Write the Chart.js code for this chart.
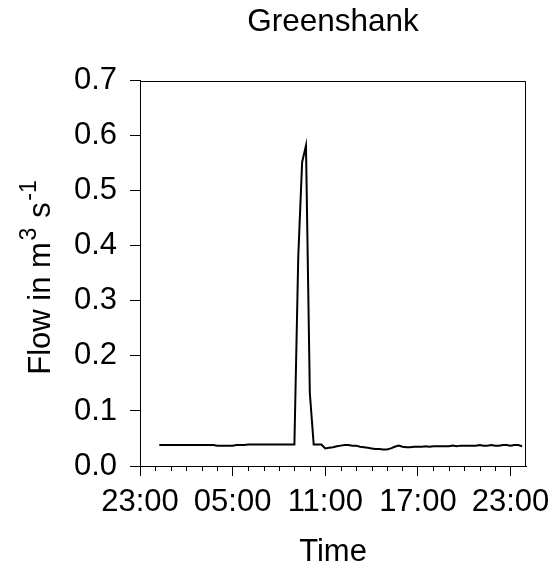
<!DOCTYPE html>
<html><head><meta charset="utf-8">
<script src="https://cdn.jsdelivr.net/npm/chart.js@4.4.1/dist/chart.umd.min.js"></script>
<style>html,body{margin:0;padding:0;background:#fff;}</style>
</head><body>
<canvas id="c" width="557" height="576"></canvas>
<script>
// ---- data ----
const chartTitle = "Greenshank";
const xAxisTitle = "Time";
const yAxisTitle = ["Flow in m", "3", " s", "-1"]; // alternating normal / superscript
const xTickHours = [0, 6, 12, 18, 24];
const xTickLabels = ["23:00", "05:00", "11:00", "17:00", "23:00"];
const xMinorHours = [1,2,3,4,5,7,8,9,10,11,13,14,15,16,17,19,20,21,22,23];
const yTickValues = [0, 0.1, 0.2, 0.3, 0.4, 0.5, 0.6, 0.7];
const yTickLabels = ["0.0","0.1","0.2","0.3","0.4","0.5","0.6","0.7"];
// hours after 23:00 of the first day
const timeHours = [1.25,1.5,1.75,2,2.25,2.5,2.75,3,3.25,3.5,3.75,4,4.25,4.5,4.75,
  5,5.25,5.5,5.75,6,6.25,6.5,6.75,7,7.25,7.5,7.75,8,8.25,8.5,8.75,9,9.25,9.5,9.75,10,
  10.25,10.5,10.75,11,11.25,11.5,11.75,12,12.25,12.5,12.75,13,13.25,13.5,13.75,14,
  14.25,14.5,14.75,15,15.25,15.5,15.75,16,16.25,16.5,16.75,17,17.25,17.5,17.75,18,
  18.25,18.5,18.75,19,19.25,19.5,19.75,20,20.25,20.5,20.75,21,21.25,21.5,21.75,22,
  22.25,22.5,22.75,23,23.25,23.5,23.75,24,24.25,24.5,24.75];
const flowValues = [0.038,0.038,0.038,0.038,0.038,0.038,0.038,0.038,0.038,0.038,0.038,0.038,0.038,0.038,0.038,
  0.037,0.037,0.037,0.037,0.037,0.038,0.038,0.038,
  0.039,0.039,0.039,0.039,0.039,0.039,0.039,0.039,0.039,0.039,0.039,0.039,0.039,
  0.380,0.552,0.582,0.132,
  0.039,0.039,0.039,
  0.032,0.033,0.034,0.036,0.037,0.038,0.038,0.037,0.037,0.035,0.034,0.033,0.032,0.031,0.031,0.030,0.030,0.032,0.035,0.037,
  0.035,0.034,0.034,0.035,0.035,0.035,0.036,0.035,0.036,0.036,0.036,0.036,0.036,0.037,0.036,0.037,
  0.037,0.037,0.037,0.037,0.038,0.037,0.037,0.038,0.037,0.037,0.038,0.038,0.037,0.038,0.038,0.036];

const FONT = "'Liberation Sans', Arial, Helvetica, sans-serif";

const framePlugin = {
  id: 'frame',
  afterDraw(chart) {
    const ctx = chart.ctx, a = chart.chartArea;
    ctx.save();
    ctx.strokeStyle = '#000';
    ctx.lineWidth = 1;
    ctx.beginPath();
    ctx.moveTo(Math.round(a.left) + 0.5, Math.round(a.top) + 0.5);
    ctx.lineTo(Math.round(a.right) - 0.5, Math.round(a.top) + 0.5);
    ctx.lineTo(Math.round(a.right) - 0.5, Math.round(a.bottom) + 0.5);
    ctx.stroke();
    // minor hour ticks
    const xs = chart.scales.x;
    ctx.beginPath();
    xMinorHours.forEach(h => {
      const px = Math.round(xs.getPixelForValue(h)) + 0.5;
      ctx.moveTo(px, a.bottom);
      ctx.lineTo(px, a.bottom + 5);
    });
    ctx.stroke();
    // y axis title with superscripts
    const big = "31px " + FONT, small = "23px " + FONT;
    const gap = 1.5;
    let total = 0;
    yAxisTitle.forEach((t, i) => { ctx.font = i % 2 ? small : big; total += ctx.measureText(t).width; });
    total += gap * (yAxisTitle.length - 1);
    ctx.translate(50, 277.5);
    ctx.rotate(-Math.PI / 2);
    ctx.fillStyle = '#000';
    ctx.textBaseline = 'alphabetic';
    ctx.textAlign = 'left';
    let x = -total / 2;
    yAxisTitle.forEach((t, i) => {
      ctx.font = i % 2 ? small : big;
      ctx.fillText(t, x, i % 2 ? -14 : 0);
      x += ctx.measureText(t).width + gap;
    });
    ctx.restore();
  }
};

new Chart(document.getElementById('c'), {
  type: 'line',
  data: {
    datasets: [{
      data: timeHours.map((h, i) => ({x: h, y: flowValues[i]})),
      borderColor: '#000',
      borderWidth: 2,
      pointRadius: 0,
      tension: 0,
      fill: false
    }]
  },
  options: {
    responsive: false,
    animation: false,
    devicePixelRatio: 1,
    layout: { padding: { left: 0, right: 31, top: 0, bottom: 0 } },
    plugins: {
      legend: { display: false },
      tooltip: { enabled: false },
      title: {
        display: true, text: chartTitle, fullSize: false, color: '#000',
        font: { family: FONT, size: 31.5, weight: 'normal', lineHeight: 1.2 },
        padding: { top: 3.5, bottom: 39.4 }
      }
    },
    scales: {
      x: {
        type: 'linear', min: 0, max: 25,
        afterBuildTicks: s => { s.ticks = xTickHours.map(v => ({ value: v })); },
        afterFit: s => { s.height = 110; s.paddingLeft = 0; s.paddingRight = 0; },
        grid: { drawOnChartArea: false, tickLength: 10, color: '#000', lineWidth: 1 },
        border: { display: true, color: '#000', width: 1 },
        ticks: {
          autoSkip: false, maxRotation: 0, color: '#000', padding: 11,
          font: { family: FONT, size: 31, lineHeight: 1 },
          callback: (v, i) => xTickLabels[i]
        },
        title: {
          display: true, text: xAxisTitle, color: '#000',
          font: { family: FONT, size: 31, lineHeight: 1.2 },
          padding: { top: 0, bottom: 4.8 }
        }
      },
      y: {
        type: 'linear', min: 0, max: 0.7,
        afterBuildTicks: s => { s.ticks = yTickValues.map(v => ({ value: v })); },
        afterFit: s => { s.width = 140; },
        grid: { drawOnChartArea: false, tickLength: 10, color: '#000', lineWidth: 1 },
        border: { display: true, color: '#000', width: 1 },
        ticks: {
          color: '#000', padding: 13,
          font: { family: FONT, size: 31, lineHeight: 1 },
          callback: (v, i) => yTickLabels[i]
        }
      }
    }
  },
  plugins: [framePlugin]
});
</script>
</body></html>
